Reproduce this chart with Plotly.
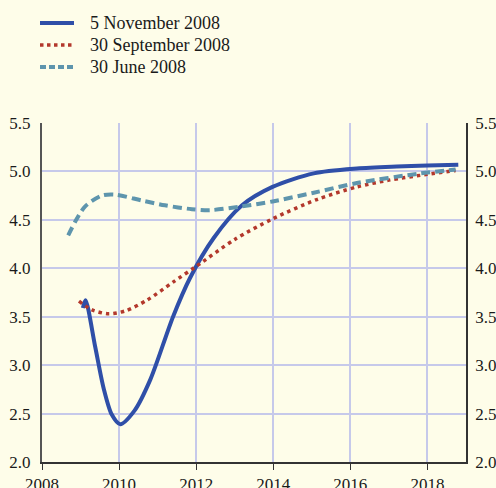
import plotly.graph_objects as go

# yield curves (year, percent)
nov_x = [2009.06, 2009.13, 2009.38, 2009.6, 2009.81, 2010.03, 2010.4, 2010.81, 2011.4, 2011.84,
         2012.45, 2013.19, 2013.98, 2015.05, 2016.17, 2017.2, 2018.0, 2018.8]
nov_y = [3.59, 3.67, 3.19, 2.76, 2.49, 2.39, 2.53, 2.85, 3.5, 3.90,
         4.31, 4.65, 4.84, 4.98, 5.03, 5.05, 5.06, 5.07]

sep_x = [2008.96, 2009.3, 2009.72, 2010.16, 2010.72, 2011.41, 2012.0, 2013.01, 2013.98,
         2015.13, 2016.17, 2017.0, 2018.0, 2018.73]
sep_y = [3.66, 3.57, 3.53, 3.56, 3.67, 3.86, 4.02, 4.30, 4.51,
         4.71, 4.84, 4.91, 4.97, 5.01]

jun_x = [2008.68, 2008.86, 2009.12, 2009.55, 2009.9, 2010.59, 2011.19, 2011.89, 2012.36,
         2013.19, 2013.98, 2015.05, 2016.17, 2017.82, 2018.73]
jun_y = [4.34, 4.48, 4.64, 4.75, 4.76, 4.70, 4.65, 4.61, 4.60,
         4.64, 4.69, 4.78, 4.88, 4.98, 5.02]

names = ["5 November 2008", "30 September 2008", "30 June 2008"]
colors = ["#2f4fa8", "#b3382c", "#5e95ad"]
dashes = ["solid", "3.5px,4px", "9px,5px"]
legend_dashes = ["solid", "3.5px,3.5px", "6px,3px"]
widths = [4, 3.5, 4]

font = "Liberation Serif"

fig = go.Figure()
for xs, ys, c, d, w in zip([nov_x, sep_x, jun_x], [nov_y, sep_y, jun_y], colors, dashes, widths):
    fig.add_trace(go.Scatter(x=xs, y=ys, mode="lines", showlegend=False,
                             line=dict(color=c, width=w, dash=d, shape="spline", smoothing=0.8)))
# dummy trace so the right axis is drawn
fig.add_trace(go.Scatter(x=[2008], y=[2.0], yaxis="y2", showlegend=False,
                         mode="markers", marker=dict(opacity=0), hoverinfo="skip"))

# legend drawn by hand above the plot
for i, (n, c, d, w) in enumerate(zip(names, colors, legend_dashes, widths)):
    py = 23 + 22 * i
    yp = (462 - py) / 339
    fig.add_shape(type="line", xref="paper", yref="paper",
                  x0=(40 - 42) / 424, x1=(74 - 42) / 424, y0=yp, y1=yp,
                  line=dict(color=c, width=w, dash=d))
    fig.add_annotation(text=n, xref="paper", yref="paper", x=(88 - 42) / 424, y=yp,
                       xanchor="left", yanchor="middle", showarrow=False,
                       font=dict(family=font, size=18, color="#1a1a1a"))

fig.update_layout(
    width=496, height=488,
    paper_bgcolor="#fefde9", plot_bgcolor="#fefde9",
    margin=dict(l=42, r=30, t=123, b=26, autoexpand=False),
    font=dict(family=font, size=17, color="#1a1a1a"),
    xaxis=dict(range=[2008, 2019], tickvals=[2008, 2010, 2012, 2014, 2016, 2018],
               showgrid=True, gridcolor="#c6c9ea", gridwidth=1.5,
               showline=True, linecolor="#333", linewidth=1.5,
               ticks="outside", ticklen=6, tickcolor="#333", zeroline=False),
    yaxis=dict(range=[2.0, 5.5], dtick=0.5, tickformat=".1f",
               showgrid=True, gridcolor="#c6c9ea", gridwidth=1.5,
               showline=True, linecolor="#555", linewidth=2, zeroline=False,
               ticks="", ticklabelstandoff=6),
    yaxis2=dict(range=[2.0, 5.5], dtick=0.5, tickformat=".1f", overlaying="y", side="right",
                showgrid=False, showline=True, linecolor="#333", linewidth=1.5,
                zeroline=False, ticks="", ticklabelstandoff=4),
)

# drop the default body margin so the figure fills the window exactly
fig.write_html("out.html", config={"displayModeBar": False},
               post_script="document.body.style.margin='0';document.body.style.overflow='hidden';")
